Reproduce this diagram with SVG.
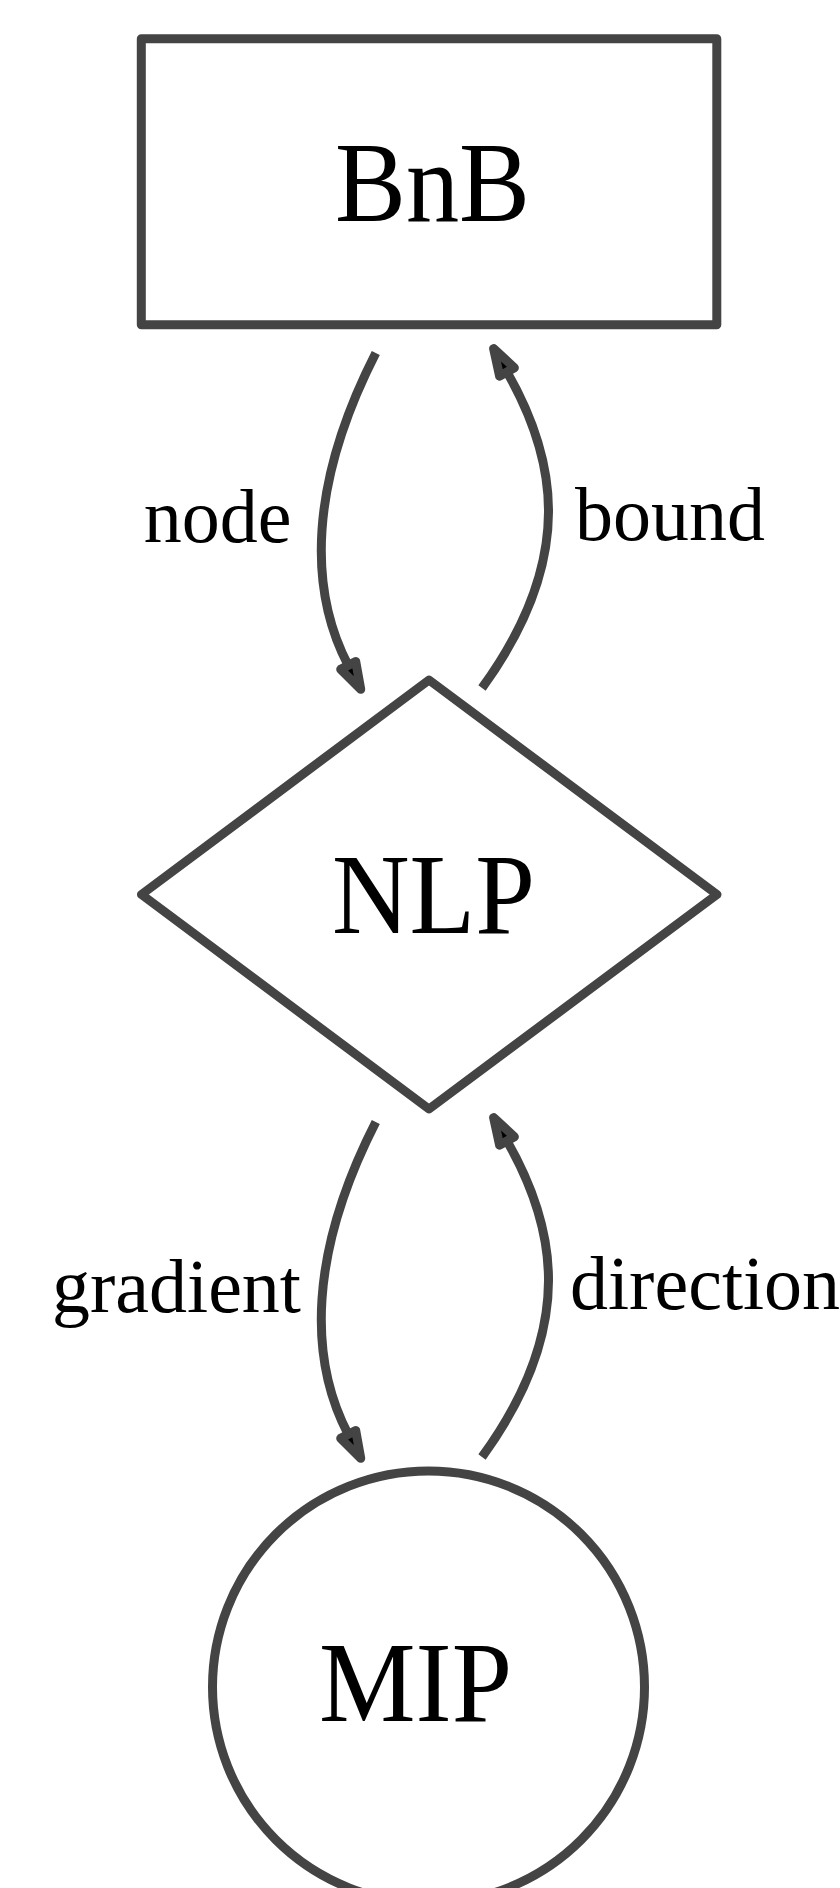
<svg xmlns="http://www.w3.org/2000/svg" width="840" height="1888" viewBox="0 0 840 1888">
  <style>
    .shape { fill: #ffffff; stroke: #444444; stroke-width: 9; stroke-linejoin: round; }
    .edge { fill: none; stroke: #444444; stroke-width: 9; }
    .title { font-family: "Liberation Serif", "Times New Roman", serif; font-size: 114px; fill: #000000; }
    .label { font-family: "Liberation Serif", "Times New Roman", serif; font-size: 76px; fill: #000000; }
  </style>
  <defs>
    <marker id="arrow" markerUnits="userSpaceOnUse" markerWidth="60" markerHeight="60" refX="0" refY="0" orient="auto" overflow="visible">
      <path d="M0,-8.5 L27,0 L0,8.5 Z" fill="#000000" stroke="#444444" stroke-width="9" stroke-linejoin="round"/>
    </marker>
  </defs>
  <rect width="840" height="1888" fill="#ffffff"/>

  <!-- connectors -->
  <g id="edges">
    <path id="edge-node" class="edge" d="M375.8,353 C308.8,484.3 308.5,589.6 348.2,665.4" marker-end="url(#arrow)"/>
    <path id="edge-bound" class="edge" d="M482,688 C578,556 555,456 507,372" marker-end="url(#arrow)"/>
    <path id="edge-gradient" class="edge" d="M375.8,1122 C308.8,1253.3 308.5,1358.6 348.2,1434.4" marker-end="url(#arrow)"/>
    <path id="edge-direction" class="edge" d="M482,1457 C578,1325 555,1225 507,1141" marker-end="url(#arrow)"/>
    <text class="label" x="291.5" y="542" text-anchor="end">node</text>
    <text class="label" x="575" y="540">bound</text>
    <text class="label" x="301" y="1312" text-anchor="end">gradient</text>
    <text class="label" x="570" y="1309">direction</text>
  </g>

  <g id="node-bnb">
    <rect class="shape" x="141.3" y="38.7" width="575.5" height="286"/>
    <text class="title" x="335" y="221" textLength="195" lengthAdjust="spacingAndGlyphs">BnB</text>
  </g>

  <g id="node-nlp">
    <polygon class="shape" points="429,680 717,894.5 429,1109 141.5,894.5"/>
    <text class="title" x="332" y="933" textLength="203" lengthAdjust="spacingAndGlyphs">NLP</text>
  </g>

  <g id="node-mip">
    <circle class="shape" cx="428.5" cy="1687" r="216"/>
    <text class="title" x="319" y="1721" textLength="193" lengthAdjust="spacingAndGlyphs">MIP</text>
  </g>
</svg>
